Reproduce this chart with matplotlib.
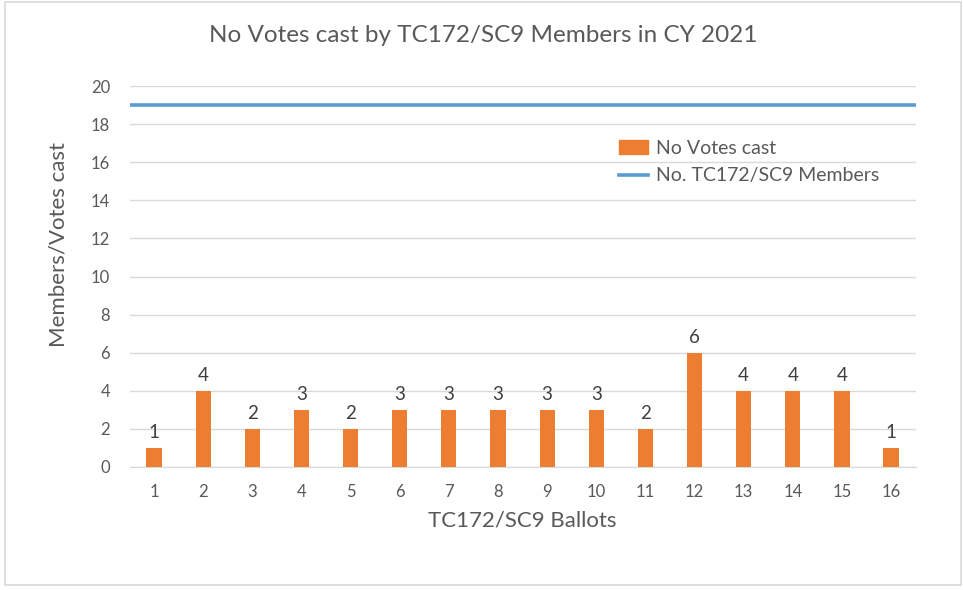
import matplotlib.pyplot as plt
from matplotlib.patches import Rectangle
from matplotlib.lines import Line2D
from matplotlib.patches import Patch

plt.rcParams['font.family'] = ['Lato', 'DejaVu Sans']

# Data
ballots = list(range(1, 17))
no_votes = [1, 4, 2, 3, 2, 3, 3, 3, 3, 3, 2, 6, 4, 4, 4, 1]
members = 19

ORANGE = '#ED7D31'
BLUE = '#5B9BD5'
TEXT = '#595959'
GRID = '#D9D9D9'

fig = plt.figure(figsize=(9.63, 5.90), dpi=100)
ax = fig.add_axes([0.1345, 0.2085, 0.8163, 0.6457])

# outer chart border
fig.patches.append(Rectangle((0.005, 0.008), 0.993, 0.988, transform=fig.transFigure,
                             fill=False, edgecolor='#D9D9D9', linewidth=1.2))

bars = ax.bar(ballots, no_votes, width=0.31, color=ORANGE, zorder=3)
for x, v in zip(ballots, no_votes):
    ax.text(x, v + 0.35, str(v), ha='center', va='bottom', fontsize=13.5, color='#404040')

ax.plot([0.5, 16.55], [members, members], color=BLUE, linewidth=2.6, zorder=4)

ax.set_xlim(0.5, 16.5)
ax.set_ylim(0, 20)
ax.set_yticks(range(0, 21, 2))
ax.set_xticks(ballots)
ax.yaxis.grid(True, color=GRID, linewidth=1)
ax.set_axisbelow(True)
for s in ['top', 'right', 'left']:
    ax.spines[s].set_visible(False)
ax.spines['bottom'].set_color(GRID)
ax.tick_params(axis='both', length=0, labelsize=12, colors=TEXT)
ax.tick_params(axis='x', pad=12)
ax.tick_params(axis='y', pad=14)

ax.set_xlabel('TC172/SC9 Ballots', fontsize=16, color=TEXT, labelpad=8)
ax.set_ylabel('Members/Votes cast', fontsize=16, color=TEXT, va='center')
ax.yaxis.set_label_coords(-0.09, 0.583)
fig.text(0.502, 0.94, 'No Votes cast by TC172/SC9 Members in CY 2021',
         ha='center', va='center', fontsize=17.5, color=TEXT)

handles = [Patch(color=ORANGE, label='No Votes cast'),
           Line2D([0], [0], color=BLUE, linewidth=2.6, label='No. TC172/SC9 Members')]
ax.legend(handles=handles, loc='upper left', bbox_to_anchor=(0.60, 0.905),
          frameon=False, fontsize=14, labelcolor=TEXT, handlelength=1.5,
          handletextpad=0.4, labelspacing=0.55)

fig.savefig('out.png', dpi=100)
